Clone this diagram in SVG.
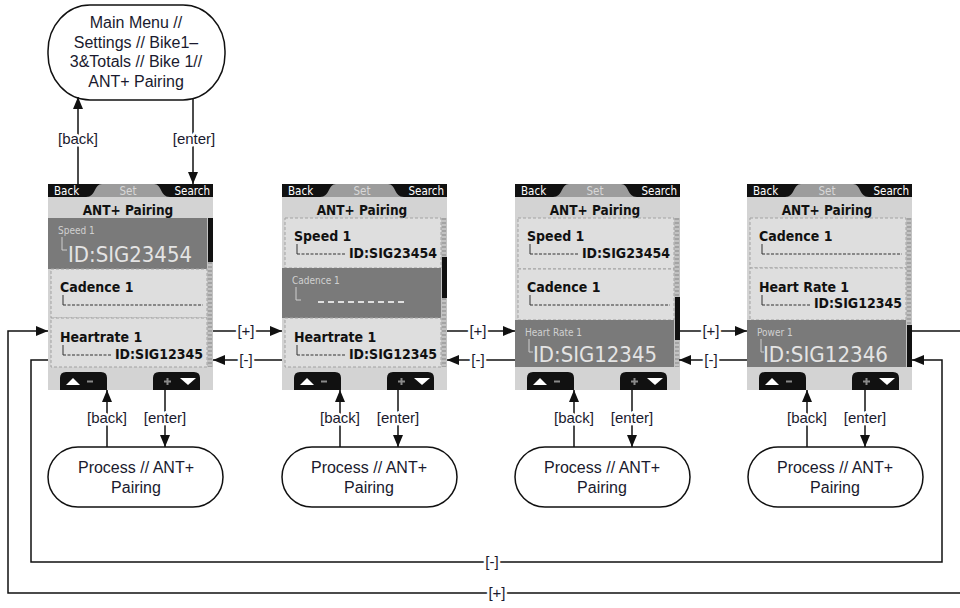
<svg xmlns="http://www.w3.org/2000/svg" xmlns:xlink="http://www.w3.org/1999/xlink" width="960" height="608" viewBox="0 0 960 608">
<style>
.node{fill:#fff;stroke:#111;stroke-width:1.5}
.nt{font-family:"Liberation Sans",Arial,sans-serif;font-size:16px;fill:#1a1a2e;text-anchor:middle}
.lbl{font-family:"Liberation Sans",Arial,sans-serif;font-size:15px;fill:#1a1a2e;text-anchor:middle;stroke:#fff;stroke-width:5;paint-order:stroke;stroke-linejoin:round}
.con{fill:none;stroke:#111;stroke-width:1.5}
.arr{marker-end:url(#ah)}
.scr{fill:#d3d3d3}
.item{fill:#dedede;stroke:#a2a2a2;stroke-width:1;stroke-dasharray:3 2}
.hl{fill:#7a7a7a}
.thumb{fill:#111}
.tab{font-family:"DejaVu Sans Condensed","DejaVu Sans",sans-serif;font-size:11.5px;fill:#fff}
.tabm{font-family:"DejaVu Sans Condensed","DejaVu Sans",sans-serif;font-size:11.5px;fill:#d8d8d8;text-anchor:middle}
.title{font-family:"DejaVu Sans Condensed","DejaVu Sans",sans-serif;font-weight:bold;font-size:13.5px;fill:#111;text-anchor:middle}
.name{font-family:"DejaVu Sans Condensed","DejaVu Sans",sans-serif;font-weight:bold;font-size:14px;fill:#111}
.id{font-family:"DejaVu Sans Condensed","DejaVu Sans",sans-serif;font-weight:bold;font-size:14px;fill:#111;text-anchor:end}
.small{font-family:"DejaVu Sans Condensed","DejaVu Sans",sans-serif;font-size:10px;fill:#d0d0d0}
.big{font-family:"DejaVu Sans Condensed","DejaVu Sans",sans-serif;font-size:22px;fill:#e4e4e4}
.brk{fill:none;stroke:#333;stroke-width:1}
.brkd{fill:none;stroke:#333;stroke-width:1;stroke-dasharray:3 1.5}
.brkl{fill:none;stroke:#cfcfcf;stroke-width:1}
</style>
<defs>
<marker id="ah" viewBox="0 0 12 10" refX="12" refY="5" markerWidth="12" markerHeight="10" markerUnits="userSpaceOnUse" orient="auto">
<path d="M0,0 L12,5 L0,10 Z" fill="#111"/>
</marker>
<g id="frame">
<rect class="scr" x="0" y="0" width="165" height="206"/>
<rect x="0" y="0" width="165" height="13" fill="#9c9c9c"/>
<path d="M0,0 H54 C46,0 48,13 38,13 H0 Z" fill="#111"/>
<path d="M165,0 H106 C114,0 112,13 122,13 H165 Z" fill="#111"/>
<rect x="159" y="34" width="6" height="149" fill="#c2c2c2"/>
<line x1="162" y1="34" x2="162" y2="183" stroke="#a4a4a4" stroke-width="4" stroke-dasharray="2 2"/>
<path d="M12,206 V194 Q12,188 18,188 H53 Q59,188 59,194 V206 Z" fill="#111"/>
<path d="M105,206 V194 Q105,188 111,188 H146 Q152,188 152,194 V206 Z" fill="#111"/>
<path d="M18,201 L25,194 L32,201 Z" fill="#fff"/>
<rect x="39" y="196.5" width="6" height="2" fill="#8a8a8a"/>
<path d="M116,197.5 H123 M119.5,194 V201" stroke="#8a8a8a" stroke-width="2"/>
<path d="M132,194 H148 L140,201 Z" fill="#fff"/>
</g>
</defs>

<g id="main-menu">
<rect class="node" x="48" y="5" width="177" height="95" rx="42" ry="46"/>
<text class="nt" x="136" y="28">Main Menu //</text>
<text class="nt" x="136" y="48">Settings // Bike1–</text>
<text class="nt" x="136" y="67">3&amp;Totals // Bike 1//</text>
<text class="nt" x="136" y="87">ANT+ Pairing</text>
</g>

<g id="screen1" transform="translate(48,184)">
<use xlink:href="#frame" href="#frame"/>
<text class="tab" x="6" y="11">Back</text>
<text class="tabm" x="80" y="11">Set</text>
<text class="tab" x="162" y="11" text-anchor="end">Search</text>
<text class="title" x="80" y="31">ANT+ Pairing</text>
<rect class="hl" x="0" y="34" width="159" height="51"/>
<text class="small" x="10" y="50">Speed 1</text>
<path class="brkl" d="M14,53 V66 H19"/>
<text class="big" x="20" y="78" textLength="124" lengthAdjust="spacingAndGlyphs">ID:SIG23454</text>
<rect class="item" x="3" y="85" width="156" height="49"/>
<text class="name" x="12" y="108">Cadence 1</text>
<path class="brk" d="M15,111 V121"/>
<path class="brkd" d="M15,121 H155"/>
<rect class="item" x="3" y="134" width="156" height="49"/>
<text class="name" x="12" y="158">Heartrate 1</text>
<path class="brk" d="M15,161 V171"/>
<path class="brkd" d="M15,171 H63"/>
<text class="id" x="155" y="175">ID:SIG12345</text>
<rect class="thumb" x="160" y="34" width="5" height="44"/>
</g>

<g id="screen2" transform="translate(282,184)">
<use xlink:href="#frame" href="#frame"/>
<text class="tab" x="6" y="11">Back</text>
<text class="tabm" x="80" y="11">Set</text>
<text class="tab" x="162" y="11" text-anchor="end">Search</text>
<text class="title" x="80" y="31">ANT+ Pairing</text>
<rect class="item" x="3" y="34" width="156" height="50"/>
<text class="name" x="12" y="57">Speed 1</text>
<path class="brk" d="M15,60 V70"/>
<path class="brkd" d="M15,70 H64"/>
<text class="id" x="155" y="74">ID:SIG23454</text>
<rect class="hl" x="0" y="84" width="159" height="50"/>
<text class="small" x="10" y="100">Cadence 1</text>
<path class="brkl" d="M14,103 V116 H19"/>
<line x1="36" y1="118" x2="126" y2="118" stroke="#e0e0e0" stroke-width="2" stroke-dasharray="6 4"/>
<rect class="item" x="3" y="134" width="156" height="49"/>
<text class="name" x="12" y="158">Heartrate 1</text>
<path class="brk" d="M15,161 V171"/>
<path class="brkd" d="M15,171 H63"/>
<text class="id" x="155" y="175">ID:SIG12345</text>
<rect class="thumb" x="160" y="73" width="5" height="41"/>
</g>

<g id="screen3" transform="translate(515,184)">
<use xlink:href="#frame" href="#frame"/>
<text class="tab" x="6" y="11">Back</text>
<text class="tabm" x="80" y="11">Set</text>
<text class="tab" x="162" y="11" text-anchor="end">Search</text>
<text class="title" x="80" y="31">ANT+ Pairing</text>
<rect class="item" x="3" y="34" width="156" height="51"/>
<text class="name" x="12" y="57">Speed 1</text>
<path class="brk" d="M15,60 V70"/>
<path class="brkd" d="M15,70 H64"/>
<text class="id" x="155" y="74">ID:SIG23454</text>
<rect class="item" x="3" y="85" width="156" height="51"/>
<text class="name" x="12" y="108">Cadence 1</text>
<path class="brk" d="M15,111 V121"/>
<path class="brkd" d="M15,121 H155"/>
<rect class="hl" x="0" y="136" width="159" height="47"/>
<text class="small" x="10" y="152">Heart Rate 1</text>
<path class="brkl" d="M14,155 V168 H18"/>
<text class="big" x="18" y="178" textLength="124" lengthAdjust="spacingAndGlyphs">ID:SIG12345</text>
<rect class="thumb" x="160" y="113" width="5" height="43"/>
</g>

<g id="screen4" transform="translate(747,184)">
<use xlink:href="#frame" href="#frame"/>
<text class="tab" x="6" y="11">Back</text>
<text class="tabm" x="80" y="11">Set</text>
<text class="tab" x="162" y="11" text-anchor="end">Search</text>
<text class="title" x="80" y="31">ANT+ Pairing</text>
<rect class="item" x="3" y="34" width="156" height="50"/>
<text class="name" x="12" y="57">Cadence 1</text>
<path class="brk" d="M15,60 V70"/>
<path class="brkd" d="M15,70 H155"/>
<rect class="item" x="3" y="84" width="156" height="52"/>
<text class="name" x="12" y="108">Heart Rate 1</text>
<path class="brk" d="M15,111 V121"/>
<path class="brkd" d="M15,121 H63"/>
<text class="id" x="155" y="124">ID:SIG12345</text>
<rect class="hl" x="0" y="136" width="159" height="47"/>
<text class="small" x="10" y="152">Power 1</text>
<path class="brkl" d="M14,155 V168 H17"/>
<text class="big" x="16" y="178" textLength="125" lengthAdjust="spacingAndGlyphs">ID:SIG12346</text>
<rect class="thumb" x="160" y="141" width="5" height="42"/>
</g>

<g id="process1"><rect class="node" x="48" y="447" width="175" height="60" rx="30" ry="30"/><text class="nt" x="136" y="473">Process // ANT+</text><text class="nt" x="136" y="493">Pairing</text></g>
<g id="process2"><rect class="node" x="282" y="447" width="175" height="60" rx="30" ry="30"/><text class="nt" x="369" y="473">Process // ANT+</text><text class="nt" x="369" y="493">Pairing</text></g>
<g id="process3"><rect class="node" x="515" y="447" width="175" height="60" rx="30" ry="30"/><text class="nt" x="602" y="473">Process // ANT+</text><text class="nt" x="602" y="493">Pairing</text></g>
<g id="process4"><rect class="node" x="748" y="447" width="175" height="60" rx="30" ry="30"/><text class="nt" x="835" y="473">Process // ANT+</text><text class="nt" x="835" y="493">Pairing</text></g>

<g id="connectors">
<path class="con arr" d="M78,184 V97"/>
<path class="con arr" d="M193,99 V184"/>
<path class="con arr" d="M213,331 H282"/>
<path class="con arr" d="M282,360 H213"/>
<path class="con arr" d="M447,331 H515"/>
<path class="con arr" d="M515,360 H447"/>
<path class="con arr" d="M679,331 H747"/>
<path class="con arr" d="M747,360 H679"/>
<path class="con arr" d="M107,447 V390"/>
<path class="con arr" d="M165,390 V447"/>
<path class="con arr" d="M340,447 V390"/>
<path class="con arr" d="M398,390 V447"/>
<path class="con arr" d="M574,447 V390"/>
<path class="con arr" d="M632,390 V447"/>
<path class="con arr" d="M807,447 V390"/>
<path class="con arr" d="M865,390 V447"/>
<path class="con arr" d="M912,331 H962 V593 H8 V331 H48"/>
<path class="con arr" d="M48,360 H31 V562 H942 V360 H912"/>
<text class="lbl" x="78" y="144">[back]</text>
<text class="lbl" x="194" y="144">[enter]</text>
<text class="lbl" x="246" y="336">[+]</text>
<text class="lbl" x="246" y="365">[-]</text>
<text class="lbl" x="478" y="336">[+]</text>
<text class="lbl" x="478" y="365">[-]</text>
<text class="lbl" x="711" y="336">[+]</text>
<text class="lbl" x="711" y="365">[-]</text>
<text class="lbl" x="107" y="423">[back]</text>
<text class="lbl" x="165" y="423">[enter]</text>
<text class="lbl" x="340" y="423">[back]</text>
<text class="lbl" x="398" y="423">[enter]</text>
<text class="lbl" x="574" y="423">[back]</text>
<text class="lbl" x="632" y="423">[enter]</text>
<text class="lbl" x="807" y="423">[back]</text>
<text class="lbl" x="865" y="423">[enter]</text>
<text class="lbl" x="492" y="567">[-]</text>
<text class="lbl" x="497" y="598">[+]</text>
</g>
</svg>
